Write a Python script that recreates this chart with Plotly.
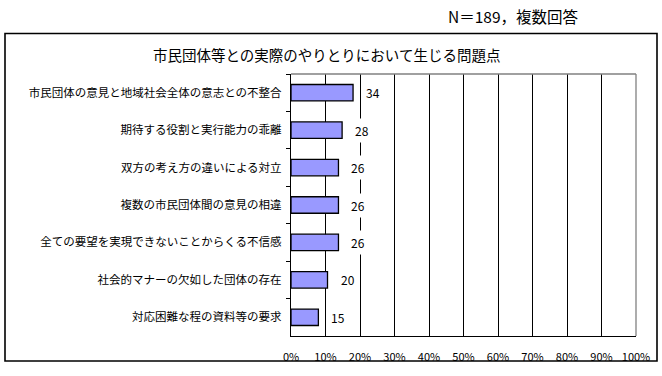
import plotly.graph_objects as go

N_TOTAL = 189
categories = [
    "市民団体の意見と地域社会全体の意志との不整合",
    "期待する役割と実行能力の乖離",
    "双方の考え方の違いによる対立",
    "複数の市民団体間の意見の相違",
    "全ての要望を実現できないことからくる不信感",
    "社会的マナーの欠如した団体の存在",
    "対応困難な程の資料等の要求",
]
counts = [34, 28, 26, 26, 26, 20, 15]
x_tick_values = [0, 10, 20, 30, 40, 50, 60, 70, 80, 90, 100]
x_tick_labels = ["0%", "10%", "20%", "30%", "40%", "50%", "60%", "70%", "80%", "90%", "100%"]
chart_title = "市民団体等との実際のやりとりにおいて生じる問題点"
note_text = "N＝189，複数回答"

percents = [c / N_TOTAL * 100 for c in counts]

W, H = 662, 376
L, R, T, B = 291, 26, 74, 30
PW, PH = W - L - R, H - T - B
FONT = "Noto Sans CJK JP"


def px(x):
    return (x - L) / PW


def py(y):
    return 1 - (y - T) / PH


fig = go.Figure(
    go.Bar(
        x=percents,
        y=categories,
        orientation="h",
        width=0.44,
        marker=dict(color="#9999FF", line=dict(color="black", width=1.3)),
        hoverinfo="skip",
    )
)

annotations = []
for cat, p, c in zip(categories, percents, counts):
    annotations.append(
        dict(
            x=p, y=cat, xref="x", yref="y", text=str(c), showarrow=False,
            xanchor="left", xshift=9, bgcolor="white", borderpad=3,
            font=dict(family=FONT, size=12, color="black"),
        )
    )

annotations.append(
    dict(x=px(326), y=py(54), xref="paper", yref="paper", text=chart_title,
         showarrow=False, xanchor="center", yanchor="middle",
         font=dict(family=FONT, size=14.5, color="black"))
)
annotations.append(
    dict(x=px(581), y=py(14), xref="paper", yref="paper", text=note_text,
         showarrow=False, xanchor="right", yanchor="middle",
         font=dict(family=FONT, size=15.5, color="black"))
)

shapes = [
    dict(type="rect", xref="paper", yref="paper", x0=px(5), x1=px(657), y0=py(372), y1=py(32),
         line=dict(color="black", width=1.6), layer="below"),
    dict(type="line", xref="paper", yref="paper", x0=0, x1=1, y0=1, y1=1,
         line=dict(color="#808080", width=1.3), layer="above"),
    dict(type="line", xref="paper", yref="paper", x0=1, x1=1, y0=0, y1=1,
         line=dict(color="#808080", width=1.3), layer="above"),
]

fig.update_layout(
    width=W, height=H,
    margin=dict(l=L, r=R, t=T, b=B, pad=0),
    paper_bgcolor="white", plot_bgcolor="white",
    showlegend=False,
    font=dict(family=FONT, color="black"),
    annotations=annotations,
    shapes=shapes,
    xaxis=dict(
        range=[0, 100], tickvals=x_tick_values, ticktext=x_tick_labels,
        showgrid=True, gridcolor="black", gridwidth=1,
        showline=True, linecolor="black", linewidth=1.3, zeroline=False,
        ticks="outside", ticklen=11, tickcolor="rgba(0,0,0,0)",
        tickfont=dict(family=FONT, size=11, color="black"), fixedrange=True,
    ),
    yaxis=dict(
        categoryorder="array", categoryarray=categories, autorange="reversed",
        showgrid=False, showline=True, linecolor="black", linewidth=1.3,
        ticks="outside", ticklen=4, tickcolor="black", tickson="boundaries",
        ticklabelstandoff=6,
        tickfont=dict(family=FONT, size=11.5, color="black"), fixedrange=True,
    ),
)

fig.write_html(
    "out.html",
    config={"displayModeBar": False},
    post_script="document.body.style.margin='0';document.body.style.overflow='hidden';",
)
